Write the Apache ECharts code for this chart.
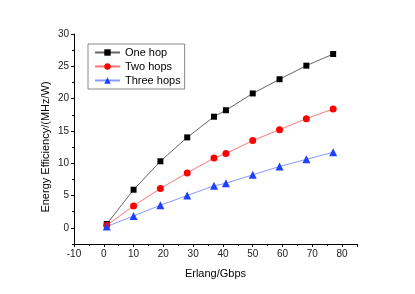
<!DOCTYPE html>
<html><head><meta charset="utf-8">
<script src="https://cdn.jsdelivr.net/npm/echarts@6/dist/echarts.min.js"></script>
<style>html,body{margin:0;padding:0;background:#fff}#c{width:415px;height:294px}</style>
</head><body><div id="c"></div>
<script>
var xValues = [1, 10, 19, 28, 37, 41, 50, 59, 68, 77];
var oneHop = [0.6, 5.9, 10.3, 14.0, 17.2, 18.2, 20.8, 23.0, 25.1, 26.9];
var twoHops = [0.4, 3.4, 6.1, 8.5, 10.8, 11.5, 13.5, 15.2, 16.9, 18.4];
var threeHops = [0.2, 1.85, 3.5, 5.0, 6.5, 6.9, 8.2, 9.5, 10.6, 11.7];
var seriesNames = ['One hop', 'Two hops', 'Three hops'];

function pairs(ys){ return xValues.map(function(x,i){ return [x, ys[i]]; }); }
var font = 'Liberation Sans, Arial, sans-serif';
var chart = echarts.init(document.getElementById('c'), null, {renderer:'canvas'});
var axisCol = '#000';
// main grid: y from -2.5 to 30; label grid: y from 0 to 30 aligned to same pixels
var gTop = 34, gBottom = 50, H = 294;
var plotH = H - gTop - gBottom;
var zeroY = H - gBottom - plotH * 2.5 / 32.5;
chart.setOption({
  animation:false,
  backgroundColor:'#fff',
  grid:[
    {left:74, right:58, top:gTop, bottom:gBottom},
    {left:74, right:58, top:gTop, bottom:H - zeroY}
  ],
  legend:{
    orient:'vertical', left:88, top:44, padding:[3,4,3,6], itemGap:3,
    itemWidth:25, itemHeight:8, borderColor:'#888', borderWidth:1,
    textStyle:{fontFamily:font, fontSize:11, color:'#000'},
    data:seriesNames
  },
  xAxis:[{
    gridIndex:0, type:'value', min:-10, max:85, interval:10,
    name:'Erlang/Gbps', nameLocation:'middle', nameGap:24,
    nameTextStyle:{fontFamily:font, fontSize:11, color:'#000'},
    axisLine:{onZero:false, lineStyle:{color:axisCol, width:1}},
    axisTick:{inside:false, length:3, lineStyle:{color:axisCol}},
    axisLabel:{fontFamily:font, fontSize:10, color:'#222', margin:5,
      formatter:function(v){ return v>80 ? '' : String(v); }},
    splitLine:{show:false}
  },{
    gridIndex:0, type:'value', min:-10, max:85, interval:5, position:'bottom',
    axisLine:{show:false, onZero:false}, axisLabel:{show:false}, splitLine:{show:false},
    axisTick:{inside:false, length:2, lineStyle:{color:axisCol}}
  },{
    gridIndex:1, type:'value', min:-10, max:85, show:false
  }],
  yAxis:[{
    gridIndex:0, type:'value', min:-2.5, max:30, interval:2.5,
    name:'Energy Efficiency/(MHz/W)', nameLocation:'middle', nameGap:23,
    nameTextStyle:{fontFamily:font, fontSize:11, color:'#000', padding:[0,16,0,0]},
    axisLine:{show:true, onZero:false, lineStyle:{color:axisCol, width:1}},
    axisTick:{inside:false, length:2, lineStyle:{color:axisCol}},
    axisLabel:{show:false},
    splitLine:{show:false}
  },{
    gridIndex:1, type:'value', min:0, max:30, interval:5, position:'left',
    axisLine:{show:false, onZero:false}, splitLine:{show:false},
    axisTick:{show:true, inside:false, length:3, lineStyle:{color:axisCol}},
    axisLabel:{fontFamily:font, fontSize:10, color:'#222', margin:5}
  }],
  series:[
    {name:seriesNames[0], type:'line', data:pairs(oneHop), symbol:'rect', symbolSize:6,
     itemStyle:{color:'#000'}, lineStyle:{color:'#666', width:1}},
    {name:seriesNames[1], type:'line', data:pairs(twoHops), symbol:'circle', symbolSize:7,
     itemStyle:{color:'#ff0000'}, lineStyle:{color:'#ff7777', width:1}},
    {name:seriesNames[2], type:'line', data:pairs(threeHops), symbol:'triangle', symbolSize:8,
     itemStyle:{color:'#2040ff'}, lineStyle:{color:'#8899ff', width:1}}
  ]
});
</script></body></html>
